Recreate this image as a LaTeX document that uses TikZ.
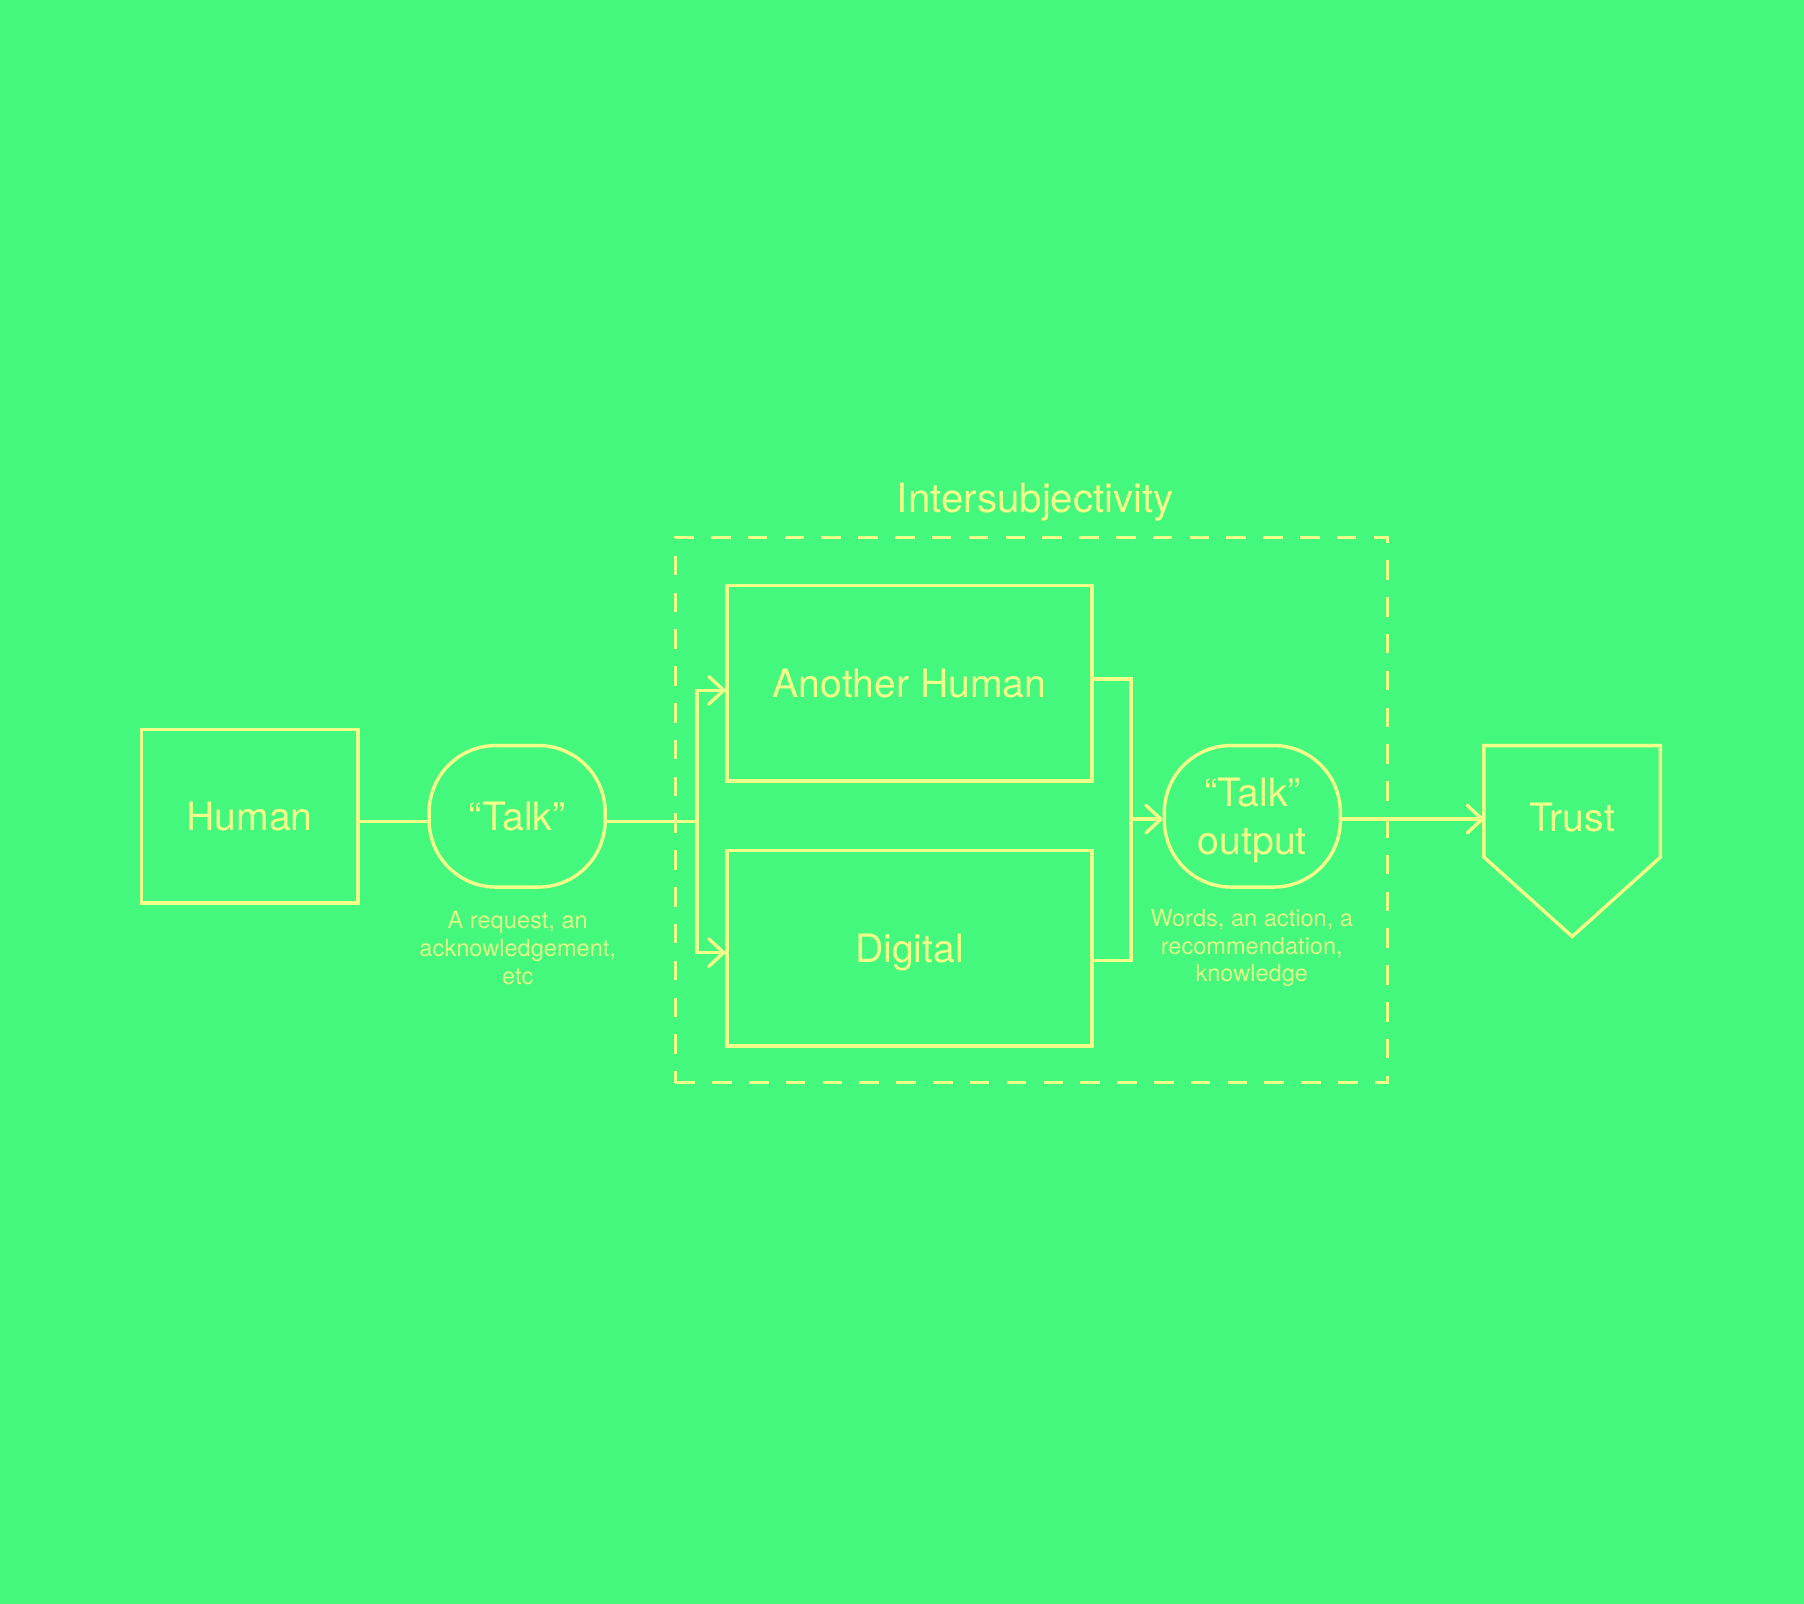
\documentclass[tikz,border=0pt]{standalone}
\usepackage{fontspec}
\setmainfont{TeX Gyre Heros}
\usetikzlibrary{arrows.meta}
\definecolor{bg}{RGB}{68,247,125}
\definecolor{yl}{RGB}{240,255,138}
\begin{document}
\begin{tikzpicture}[x=1pt,y=-1pt,
  every node/.style={text=yl, font=\fontsize{34}{42}\selectfont, inner sep=0pt, text depth=0pt},
  ln/.style={draw=yl, line width=3pt},
  arr/.style={-{Straight Barb[length=13pt,width=24pt,round]}},
  boxnode/.style={draw=yl, line width=3pt, rectangle},
  pill/.style={draw=yl, line width=3pt, rectangle, rounded corners=58pt, align=center},
  note/.style={text=yl!88!bg, font=\fontsize{20.5}{24}\selectfont, align=center, text depth=}]
\fill[bg] (0,0) rectangle (1568,1394);
\useasboundingbox (0,0) rectangle (1568,1394);

\node[boxnode, minimum width=188pt, minimum height=151pt] (human) at (217,709.5) {Human};
\node[pill, minimum width=153pt, minimum height=123pt] (talk) at (449.5,709.5) {“Talk”};
\node[note] (talknote) at (450,824) {A request, an\\acknowledgement,\\etc};

\node[draw=yl, line width=3pt, dash pattern=on 17pt off 15pt, minimum width=619pt, minimum height=474pt] (group) at (896.5,704) {};
\node[font=\fontsize{35}{42}\selectfont] (grouplabel) at (900,433) {Intersubjectivity};

\node[boxnode, minimum width=317pt, minimum height=170pt] (ah) at (790.5,594) {Another Human};
\node[boxnode, minimum width=317pt, minimum height=170pt] (dig) at (790.5,824) {Digital};

\node[pill, minimum width=153pt, minimum height=123pt] (out) at (1088.5,709.5) {“Talk”\\output};
\node[note] (outnote) at (1088,824) {Words, an action, a\\recommendation,\\knowledge};

\node[minimum width=153pt] (trust) at (1366.5,710) {Trust};
\draw[ln, line join=miter] ([yshift=62pt]trust.west) -- ([yshift=62pt]trust.east) -- ([yshift=-35pt]trust.east) -- ([yshift=-104pt]trust.center) -- ([yshift=-35pt]trust.west) -- cycle;

\coordinate (split) at (606,714);
\coordinate (merge) at (983,712);

\draw[ln] ([yshift=-4.5pt]human.east) -- ([yshift=-4.5pt]talk.west);
\draw[ln] ([yshift=-4.5pt]talk.east) -- (split);
\draw[ln, arr] (split) |- ([yshift=-6pt]ah.west);
\draw[ln, arr] (split) |- ([yshift=-4pt]dig.west);
\draw[ln] ([yshift=4pt]ah.east) -| (merge);
\draw[ln] ([yshift=-11pt]dig.east) -| (merge);
\draw[ln, arr] (merge) -- (merge -| out.west);
\draw[ln, arr] (merge -| out.east) -- (merge -| trust.west);
\end{tikzpicture}
\end{document}
